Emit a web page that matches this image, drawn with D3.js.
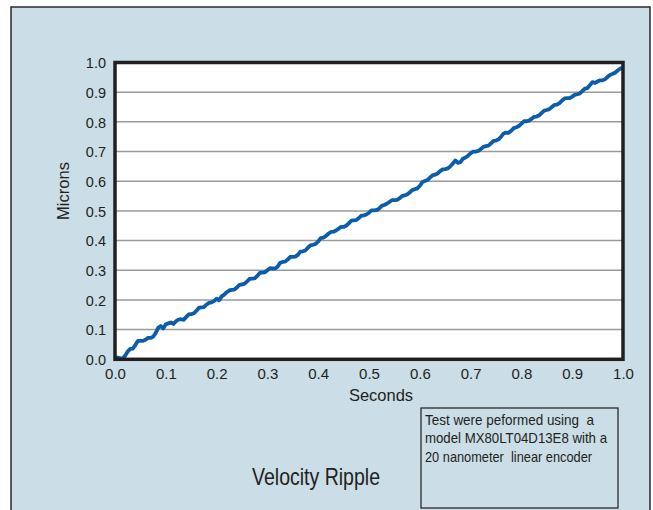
<!DOCTYPE html>
<html>
<head>
<meta charset="utf-8">
<script src="https://cdn.jsdelivr.net/npm/d3@7"></script>
<style>
  html, body { margin: 0; padding: 0; background: #ffffff; }
  svg { display: block; }
  .note { white-space: pre; }
</style>
</head>
<body>
<svg id="chart" width="653" height="510"></svg>
<script>
// ---- data ----
const xTicks = [0.0, 0.1, 0.2, 0.3, 0.4, 0.5, 0.6, 0.7, 0.8, 0.9, 1.0];
const yTicks = [0.0, 0.1, 0.2, 0.3, 0.4, 0.5, 0.6, 0.7, 0.8, 0.9, 1.0];
const seconds = d3.range(0, 201).map(i => i / 200);
const microns = [
  0.000, 0.006, 0.004, 0.003, 0.012, 0.026, 0.035, 0.036, 0.048, 0.062,
  0.062, 0.062, 0.066, 0.072, 0.072, 0.076, 0.088, 0.106, 0.112, 0.104,
  0.118, 0.121, 0.124, 0.119, 0.128, 0.134, 0.135, 0.133, 0.142, 0.151,
  0.152, 0.155, 0.163, 0.173, 0.175, 0.176, 0.184, 0.190, 0.192, 0.196,
  0.204, 0.199, 0.212, 0.218, 0.226, 0.232, 0.234, 0.235, 0.242, 0.251,
  0.252, 0.255, 0.262, 0.271, 0.272, 0.273, 0.281, 0.291, 0.292, 0.293,
  0.300, 0.307, 0.306, 0.306, 0.312, 0.325, 0.328, 0.329, 0.336, 0.345,
  0.345, 0.346, 0.352, 0.363, 0.364, 0.367, 0.377, 0.384, 0.386, 0.389,
  0.397, 0.408, 0.410, 0.415, 0.423, 0.429, 0.430, 0.434, 0.440, 0.446,
  0.446, 0.450, 0.458, 0.467, 0.468, 0.469, 0.476, 0.484, 0.485, 0.488,
  0.494, 0.502, 0.502, 0.503, 0.508, 0.517, 0.520, 0.524, 0.530, 0.536,
  0.536, 0.537, 0.542, 0.550, 0.552, 0.555, 0.562, 0.570, 0.573, 0.576,
  0.584, 0.597, 0.601, 0.604, 0.612, 0.620, 0.622, 0.626, 0.634, 0.640,
  0.641, 0.643, 0.650, 0.660, 0.670, 0.662, 0.664, 0.676, 0.680, 0.686,
  0.694, 0.700, 0.700, 0.702, 0.708, 0.716, 0.718, 0.720, 0.727, 0.736,
  0.737, 0.741, 0.750, 0.761, 0.764, 0.763, 0.770, 0.779, 0.782, 0.786,
  0.794, 0.802, 0.802, 0.804, 0.810, 0.817, 0.818, 0.822, 0.830, 0.838,
  0.840, 0.843, 0.850, 0.857, 0.858, 0.863, 0.872, 0.879, 0.880, 0.880,
  0.885, 0.891, 0.893, 0.896, 0.904, 0.912, 0.914, 0.924, 0.934, 0.931,
  0.936, 0.940, 0.940, 0.944, 0.952, 0.959, 0.962, 0.966, 0.974, 0.980,
  0.982
];
const xTitle = "Seconds";
const yTitle = "Microns";
const chartTitle = "Velocity Ripple";
const noteLines = [
  "Test were peformed using  a",
  "model MX80LT04D13E8 with a",
  "20 nanometer  linear encoder"
];

// ---- drawing ----
const svg = d3.select("#chart");
const ink = "#231f20";
const narrow = "'Liberation Sans Narrow', 'Arial Narrow', 'Liberation Sans', Arial, sans-serif";
const sans = "'Liberation Sans', Arial, Helvetica, sans-serif";

// outer panel
svg.append("rect")
  .attr("x", 11).attr("y", 7).attr("width", 639).attr("height", 520)
  .attr("fill", "#cbdde6").attr("stroke", "#2a2a2a").attr("stroke-width", 1.5);

const x = d3.scaleLinear().domain([0, 1]).range([115, 623]);
const y = d3.scaleLinear().domain([0, 1]).range([359.3, 62.5]);

// plot background
svg.append("rect")
  .attr("x", x(0)).attr("y", y(1))
  .attr("width", x(1) - x(0)).attr("height", y(0) - y(1))
  .attr("fill", "#ffffff");

// gridlines
svg.append("g").selectAll("line")
  .data(yTicks.filter(v => v > 0 && v < 1))
  .join("line")
  .attr("x1", x(0)).attr("x2", x(1))
  .attr("y1", d => y(d)).attr("y2", d => y(d))
  .attr("stroke", "#9a9a9a").attr("stroke-width", 1.5);

// data line
const line = d3.line()
  .x((d, i) => x(seconds[i]))
  .y(d => y(d));
svg.append("path")
  .datum(microns)
  .attr("d", line)
  .attr("fill", "none")
  .attr("stroke", "#0b5dab")
  .attr("stroke-width", 3.8)
  .attr("stroke-linejoin", "round");

// frame
svg.append("rect")
  .attr("x", x(0)).attr("y", y(1))
  .attr("width", x(1) - x(0)).attr("height", y(0) - y(1))
  .attr("fill", "none").attr("stroke", ink).attr("stroke-width", 3.5);

// axes
const fmt = d3.format(".1f");
const yAxis = svg.append("g")
  .attr("transform", `translate(${x(0) - 9},0)`)
  .call(d3.axisLeft(y).tickValues(yTicks).tickFormat(fmt).tickSize(0).tickPadding(0));
yAxis.select(".domain").remove();
yAxis.selectAll("text")
  .attr("font-family", sans).attr("font-size", 14.5).attr("fill", ink)
  .attr("dy", "0.36em");

const xAxis = svg.append("g")
  .attr("transform", `translate(0,${y(0) + 8})`)
  .call(d3.axisBottom(x).tickValues(xTicks).tickFormat(fmt).tickSize(0).tickPadding(0));
xAxis.select(".domain").remove();
xAxis.selectAll("text")
  .attr("font-family", sans).attr("font-size", 15).attr("fill", ink)
  .attr("dy", "0.78em");

// axis titles
svg.append("text")
  .attr("x", 381).attr("y", 401)
  .attr("text-anchor", "middle")
  .attr("font-family", sans).attr("font-size", 16.5).attr("fill", ink)
  .text(xTitle);

svg.append("text")
  .attr("transform", "translate(69,191) rotate(-90)")
  .attr("text-anchor", "middle")
  .attr("font-family", sans).attr("font-size", 16.5).attr("fill", ink)
  .text(yTitle);

// chart title
svg.append("text")
  .attr("x", 252).attr("y", 485)
  .attr("font-family", narrow).attr("font-size", 24).attr("fill", ink)
  .attr("textLength", 128).attr("lengthAdjust", "spacingAndGlyphs")
  .text(chartTitle);

// note box
svg.append("rect")
  .attr("x", 421).attr("y", 408).attr("width", 197).attr("height", 100)
  .attr("fill", "none").attr("stroke", "#2a2a2a").attr("stroke-width", 1.3);

const noteWidths = [169, 182, 167];
svg.append("g").selectAll("text")
  .data(noteLines)
  .join("text")
  .attr("class", "note")
  .attr("x", 425)
  .attr("y", (d, i) => 425 + i * 18.3)
  .attr("font-family", narrow).attr("font-size", 15).attr("fill", ink)
  .attr("textLength", (d, i) => noteWidths[i]).attr("lengthAdjust", "spacingAndGlyphs")
  .text(d => d);
</script>
</body>
</html>
